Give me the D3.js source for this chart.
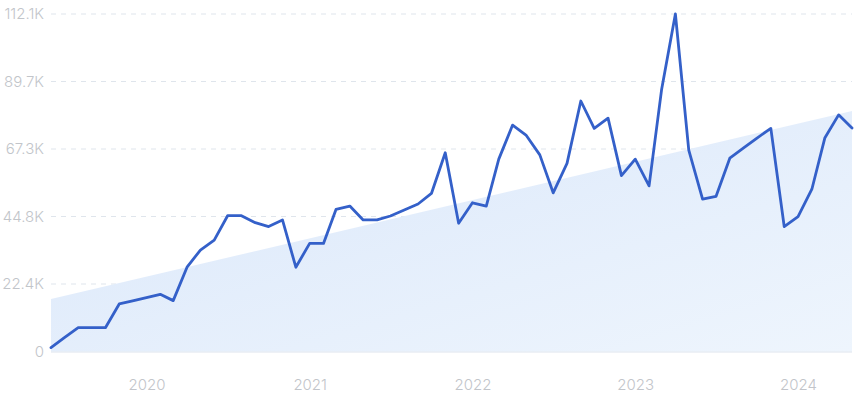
<!DOCTYPE html>
<html>
<head>
<meta charset="utf-8">
<script src="https://cdn.jsdelivr.net/npm/d3@7"></script>
<style>
  html, body { margin: 0; padding: 0; background: #ffffff; }
  svg { display: block; }
  .tick text { font-family: Inter, "Noto Sans", sans-serif; }
</style>
</head>
<body>
<svg id="chart" width="860" height="401"></svg>
<script>
// Months (one point per month)
const months = [
  "2019-06","2019-07","2019-08","2019-09","2019-10","2019-11","2019-12",
  "2020-01","2020-02","2020-03","2020-04","2020-05","2020-06","2020-07","2020-08","2020-09","2020-10","2020-11","2020-12",
  "2021-01","2021-02","2021-03","2021-04","2021-05","2021-06","2021-07","2021-08","2021-09","2021-10","2021-11","2021-12",
  "2022-01","2022-02","2022-03","2022-04","2022-05","2022-06","2022-07","2022-08","2022-09","2022-10","2022-11","2022-12",
  "2023-01","2023-02","2023-03","2023-04","2023-05","2023-06","2023-07","2023-08","2023-09","2023-10","2023-11","2023-12",
  "2024-01","2024-02","2024-03","2024-04","2024-05"
];
// Monthly values
const values = [
  1300, 4600, 7900, 7900, 7900, 15800, 16800,
  17900, 19000, 16900, 28000, 33700, 37000, 45100, 45100, 42800, 41500, 43700, 28000,
  35900, 35900, 47200, 48300, 43700, 43700, 45000, 47000, 49000, 52500, 66000, 42600,
  49400, 48300, 63900, 75200, 71900, 65300, 52700, 62500, 83200, 74100, 77500, 58400,
  63900, 55000, 86900, 112100, 66900, 50600, 51500, 64200, 67600, 70900, 74100, 41500,
  44800, 53900, 70900, 78600, 74200
];
// Trend band end values (first and last month)
const trendValues = [17400, 79900];
// Y tick values and labels
const yTicks = [0, 22420, 44840, 67260, 89680, 112100];
const yTickLabels = ["0", "22.4K", "44.8K", "67.3K", "89.7K", "112.1K"];
// X tick labels (years)
const xTickYears = ["2020", "2021", "2022", "2023", "2024"];

const svg = d3.select("#chart");
const parse = d3.timeParse("%Y-%m");
const dates = months.map(parse);
const data = dates.map((d, i) => ({ date: d, value: values[i] }));

const mLeft = 51, mRight = 852, mTop = 14, mBottom = 351.5;

const x = d3.scaleTime()
  .domain(d3.extent(dates))
  .range([mLeft, mRight]);
const y = d3.scaleLinear()
  .domain([0, 112100])
  .range([mBottom, mTop]);

// Gradient for trend band
const defs = svg.append("defs");
const grad = defs.append("linearGradient")
  .attr("id", "bandGrad")
  .attr("x1", "0%").attr("y1", "0%")
  .attr("x2", "100%").attr("y2", "100%");
grad.append("stop").attr("offset", "0%").attr("stop-color", "#dae7fa");
grad.append("stop").attr("offset", "100%").attr("stop-color", "#eef5fd");

// Gridlines
const grid = svg.append("g");
grid.selectAll("line")
  .data(yTicks.slice(1))
  .join("line")
  .attr("x1", mLeft).attr("x2", mRight)
  .attr("y1", d => y(d)).attr("y2", d => y(d))
  .attr("stroke", "#dfe5ec")
  .attr("stroke-width", 1)
  .attr("stroke-dasharray", "5,5");

// Trend band
const trendData = [
  { date: dates[0], value: trendValues[0] },
  { date: dates[dates.length - 1], value: trendValues[1] }
];
const band = d3.area()
  .x(d => x(d.date))
  .y0(y(0))
  .y1(d => y(d.value));
svg.append("path")
  .datum(trendData)
  .attr("d", band)
  .attr("fill", "url(#bandGrad)");

// Baseline
svg.append("line")
  .attr("x1", mLeft).attr("x2", mRight)
  .attr("y1", y(0) + 0.5).attr("y2", y(0) + 0.5)
  .attr("stroke", "#dde4ee")
  .attr("stroke-width", 1);

// Y axis labels
const yAxis = d3.axisLeft(y)
  .tickValues(yTicks)
  .tickFormat((d, i) => yTickLabels[i])
  .tickSize(0)
  .tickPadding(0);
const gy = svg.append("g")
  .attr("transform", `translate(${mLeft - 7},0)`)
  .call(yAxis);
gy.select(".domain").remove();
gy.selectAll("text")
  .attr("fill", "#c2c5ca")
  .style("font-size", "15px")
  .style("font-weight", "300");

// X axis labels
const xTickDates = xTickYears.map(s => d3.timeParse("%Y")(s));
const xAxis = d3.axisBottom(x)
  .tickValues(xTickDates)
  .tickFormat((d, i) => xTickYears[i])
  .tickSize(0)
  .tickPadding(0);
const gx = svg.append("g")
  .attr("transform", `translate(0,${379.5})`)
  .call(xAxis);
gx.select(".domain").remove();
gx.selectAll("text")
  .attr("fill", "#c2c5ca")
  .style("font-size", "15px")
  .style("font-weight", "300");

// Line
const line = d3.line()
  .x(d => x(d.date))
  .y(d => y(d.value));
svg.append("path")
  .datum(data)
  .attr("d", line)
  .attr("fill", "none")
  .attr("stroke", "#3460c9")
  .attr("stroke-width", 2.8)
  .attr("stroke-linejoin", "round")
  .attr("stroke-linecap", "round");
</script>
</body>
</html>
